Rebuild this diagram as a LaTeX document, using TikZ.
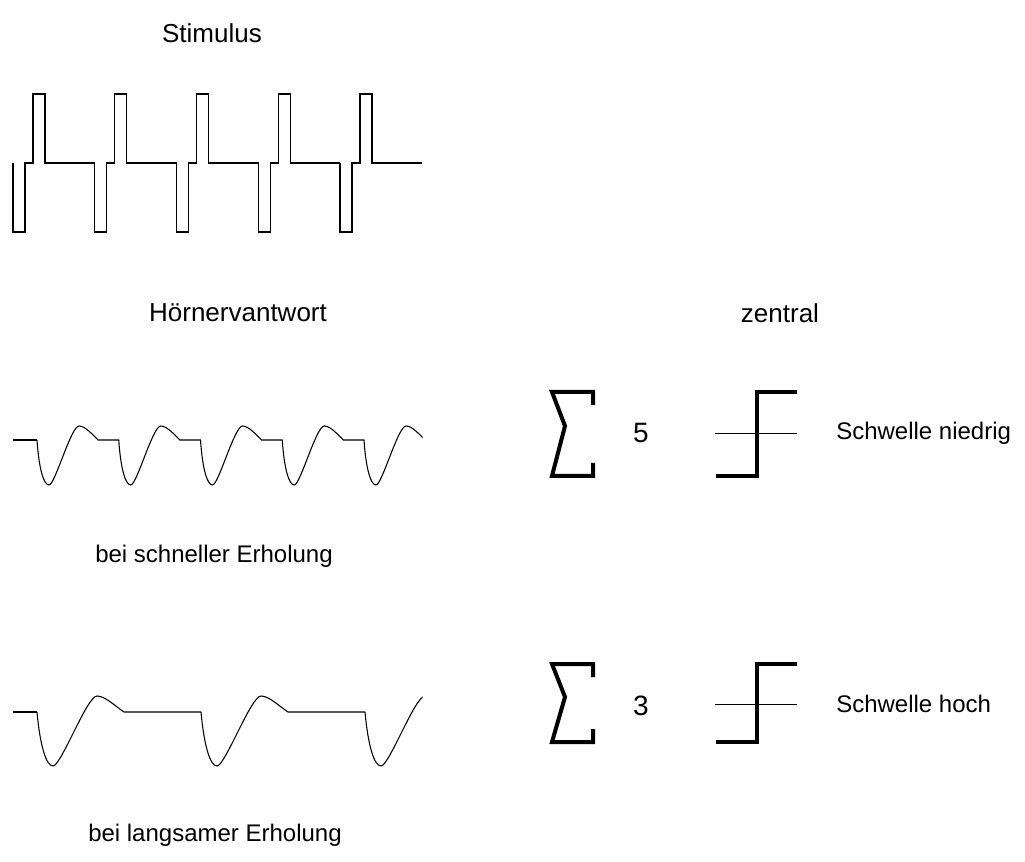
\documentclass[tikz,border=0pt]{standalone}
\usepackage{fontspec}
\setmainfont{Liberation Sans}
\usepackage{tikz}
\usetikzlibrary{positioning}

\begin{document}
\begin{tikzpicture}[
      x=0.75pt, y=-0.75pt,
      wave/.style={line width=0.8pt, line join=miter},
      symb/.style={line width=3pt, line join=miter},
      refline/.style={line width=0.6pt},
      title/.style={font=\fontsize{19.5}{23}\selectfont, inner sep=0pt},
      caption/.style={font=\fontsize{18}{22}\selectfont, inner sep=0pt},
      digit/.style={font=\fontsize{21}{25}\selectfont, inner sep=0pt}
    ]
    \useasboundingbox (0,0) rectangle (1025,862);

    % labels
    \node[title] (stim) at (212,33) {Stimulus};
    \node[title] (hoer) at (238,313) {Hörnervantwort};
    \node[title] (zent) at (780,313) {zentral};
    \node[caption] (fastlbl) at (214,556) {bei schneller Erholung};
    \node[caption] (slowlbl) at (215,835) {bei langsamer Erholung};

    % stimulus pulse train
    \foreach \x in {13,94.75,176.5,258.25,340} {
      \draw[wave] (\x,163) -- ++(0,69) -- ++(12,0) -- ++(0,-69) -- ++(8,0)
        -- ++(0,-69) -- ++(12,0) -- ++(0,69) -- ++(50,0);
    }

    % nerve response, fast recovery
    \begin{scope}
      \clip (0,380) rectangle (422.5,500);
      \draw[wave] (13,440) -- (37,440);
      \foreach \d in {37,118.75,200.5,282.25,364} {
        \draw[wave] (\d,440) .. controls ({\d+2},470) and ({\d+7},485) .. ({\d+12},485)
          .. controls ({\d+18},485) and ({\d+34},426) .. ({\d+42},426)
          .. controls ({\d+48},426) and ({\d+55},434) .. ({\d+61},440) -- ({\d+82},440);
      }
    \end{scope}

    % nerve response, slow recovery
    \begin{scope}
      \clip (0,650) rectangle (422.5,790);
      \draw[wave] (13,712) -- (37,712);
      \foreach \d in {37,201,365} {
        \draw[wave] (\d,712) .. controls ({\d+3},745) and ({\d+9},766) .. ({\d+16},766)
          .. controls ({\d+24},766) and ({\d+50},696) .. ({\d+60},696)
          .. controls ({\d+68},696) and ({\d+78},706) .. ({\d+87},712) -- ({\d+164},712);
      }
    \end{scope}

    % central summation, low threshold
    \draw[symb] (593,405) -- (593,392) -- (552,392) -- (565,426) -- (552,476)
      -- (593,476) -- (593,463);
    \node[digit] (sum5) at (641,433) {5};
    \draw[symb] (716,476) -- (757,476) -- (757,392) -- (797,392);
    \draw[refline] (715,433) -- (797,433);
    \node[caption, anchor=west] (thrlow) at (836,433) {Schwelle niedrig};

    % central summation, high threshold
    \draw[symb] (593,677) -- (593,664) -- (552,664) -- (565,697) -- (552,742)
      -- (593,742) -- (593,729);
    \node[digit] (sum3) at (641,706) {3};
    \draw[symb] (716,742) -- (757,742) -- (757,664) -- (797,664);
    \draw[refline] (715,704) -- (797,704);
    \node[caption, anchor=west] (thrhigh) at (836,704) {Schwelle hoch};
  \end{tikzpicture}
\end{document}
